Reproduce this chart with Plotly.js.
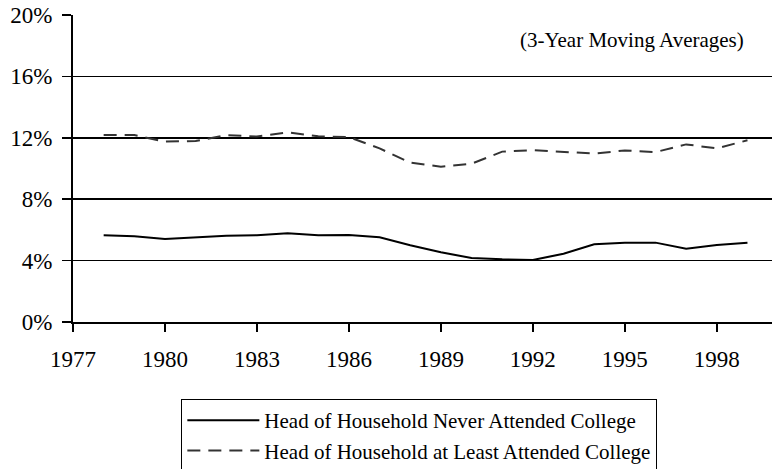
<!DOCTYPE html>
<html>
<head>
<meta charset="utf-8">
<script src="https://cdn.plot.ly/plotly-3.0.1.min.js"></script>
<style>html,body{margin:0;padding:0;background:#fff;}#chart{width:772px;height:469px;}</style>
</head>
<body>
<div id="chart"></div>
<script>
var years = [1978,1979,1980,1981,1982,1983,1984,1985,1986,1987,1988,1989,1990,1991,1992,1993,1994,1995,1996,1997,1998,1999];
var neverAttended = [5.65,5.58,5.40,5.50,5.62,5.65,5.78,5.65,5.67,5.52,5.00,4.54,4.17,4.08,4.04,4.45,5.06,5.17,5.17,4.78,5.02,5.17];
var atLeastAttended = [12.18,12.18,11.75,11.79,12.18,12.08,12.36,12.10,12.05,11.31,10.38,10.12,10.31,11.10,11.20,11.07,10.97,11.18,11.07,11.57,11.31,11.84];
var seriesNames = ["Head of Household Never Attended College","Head of Household at Least Attended College"];
var yTicks = [0,4,8,12,16,20];
var xTicks = [1977,1980,1983,1986,1989,1992,1995,1998];
var noteText = "(3-Year Moving Averages)";

var serif = "Liberation Serif, Times New Roman, serif";
var data = [
  {x: years, y: neverAttended, name: seriesNames[0], type: "scatter", mode: "lines",
   legendgroup: "a", line: {color: "#000", width: 2}},
  {x: years, y: atLeastAttended, name: seriesNames[1], type: "scatter", mode: "lines",
   legendgroup: "b", line: {color: "#333", width: 2, dash: "13px,8px"}}
];
var layout = {
  width: 772, height: 469,
  margin: {l: 73, r: 0, t: 15, b: 147, autoexpand: false},
  paper_bgcolor: "#fff", plot_bgcolor: "#fff",
  font: {family: serif, color: "#000", size: 21},
  xaxis: {range: [1977, 1999.8], tickvals: xTicks, ticktext: xTicks.map(String),
    showgrid: false, zeroline: false, showline: true, linecolor: "#000", linewidth: 2,
    ticks: "outside", ticklen: 8, tickwidth: 1.5, tickcolor: "#000",
    ticklabelstandoff: 7, tickfont: {family: serif, size: 23, color: "#000"}},
  yaxis: {range: [0, 20], tickvals: yTicks, ticktext: yTicks.map(function(v){return v + "%";}),
    showgrid: true, gridcolor: "#000", gridwidth: 1.5, zeroline: false,
    showline: true, linecolor: "#000", linewidth: 2,
    ticks: "outside", ticklen: 9, tickwidth: 1.5, tickcolor: "#000",
    ticklabelstandoff: 5, tickfont: {family: serif, size: 23, color: "#000"}},
  showlegend: true,
  legend: {x: 0.155, xanchor: "left", y: -0.251, yanchor: "top",
    bordercolor: "#000", borderwidth: 1, bgcolor: "#fff",
    font: {family: serif, size: 21, color: "#000"},
    itemwidth: 72, tracegroupgap: 15, traceorder: "normal"},
  annotations: [{text: noteText, xref: "paper", yref: "paper",
    x: (632 - 73) / 699, y: (322 - 40) / 307, xanchor: "center", yanchor: "middle",
    showarrow: false, font: {family: serif, size: 21, color: "#000"}}]
};
Plotly.newPlot("chart", data, layout, {displayModeBar: false, staticPlot: true});
</script>
</body>
</html>
